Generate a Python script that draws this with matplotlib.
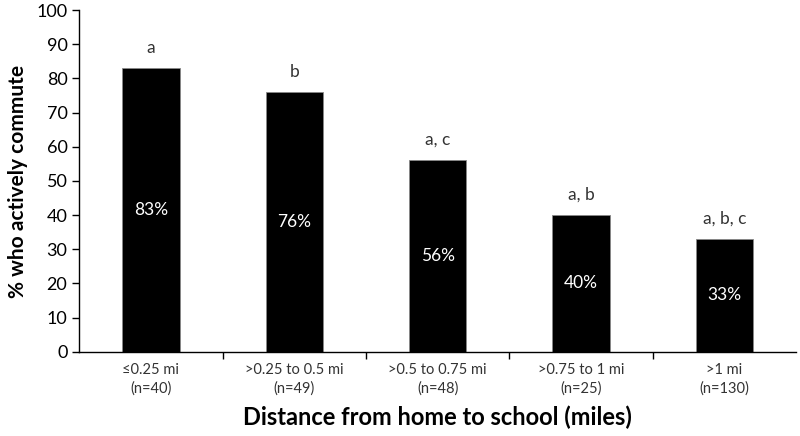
import numpy as np
import matplotlib.pyplot as plt

plt.rcParams['font.family'] = ['Lato', 'DejaVu Sans']

categories = ['≤0.25 mi\n(n=40)', '>0.25 to 0.5 mi\n(n=49)', '>0.5 to 0.75 mi\n(n=48)',
              '>0.75 to 1 mi\n(n=25)', '>1 mi\n(n=130)']
values = [83, 76, 56, 40, 33]
letters = ['a', 'b', 'a, c', 'a, b', 'a, b, c']

fig = plt.figure(figsize=(8, 4.36), dpi=100)
ax = fig.add_axes([0.099, 0.193, 0.896, 0.784])

x = np.arange(len(values))
bars = ax.bar(x, values, width=0.4, color='black', edgecolor='#888888', linewidth=0.6)

for xi, v, let in zip(x, values, letters):
    ax.text(xi, v / 2, str(v) + '%', ha='center', va='center', color='white', fontsize=12.5)
    ax.text(xi, v + 4.5, let, ha='center', va='baseline', color='#333333', fontsize=12.5)

ax.set_xlim(-0.5, len(values) - 0.5)
ax.set_ylim(0, 100)
ax.set_yticks(np.arange(0, 101, 10))
ax.set_xticks(x)
ax.set_xticklabels(categories, fontsize=10.5, color='#333333', linespacing=1.4)
ax.tick_params(axis='x', length=0, pad=8)
ax.set_xticks(np.arange(0.5, len(values) - 0.5, 1), minor=True)
ax.tick_params(axis='x', which='minor', length=5, direction='out', width=1)
ax.tick_params(axis='y', length=5, direction='out', width=1, labelsize=13, colors='black')

for s in ['top', 'right']:
    ax.spines[s].set_visible(False)
ax.spines['left'].set_linewidth(1)
ax.spines['bottom'].set_linewidth(1)

ax.set_ylabel('% who actively commute', fontsize=15, fontweight='bold', labelpad=6)
ax.set_xlabel('Distance from home to school (miles)', fontsize=17, fontweight='bold', labelpad=7)

plt.savefig('out.png', dpi=100)
